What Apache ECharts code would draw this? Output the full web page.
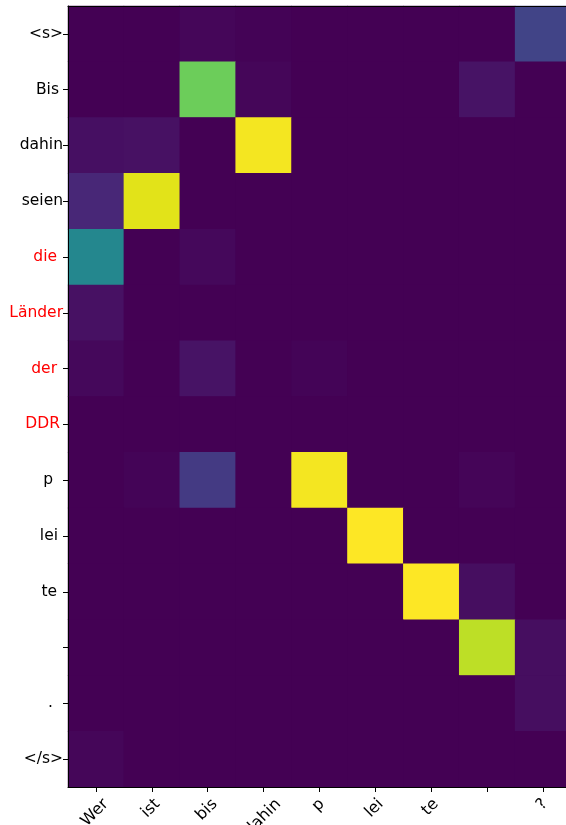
<!DOCTYPE html>
<html>
<head>
<meta charset="utf-8">
<script src="https://cdn.jsdelivr.net/npm/echarts@6/dist/echarts.min.js"></script>
<style>
html,body{margin:0;padding:0;background:#fff;}
#c{width:566px;height:825px;}
</style>
</head>
<body>
<div id="c"></div>
<script>
// Source tokens (x axis) and target tokens (y axis, top to bottom)
const sourceTokens = ['Wer', 'ist', 'bis', 'dahin', 'p', 'lei', 'te', '', '?'];
const targetTokens = ['<s>', 'Bis', 'dahin', 'seien', 'die', 'Länder', 'der', 'DDR', 'p', 'lei', 'te', '', '.', '</s>'];
const highlightedTargets = ['die', 'Länder', 'der', 'DDR'];

// Attention weights, one row per target token (columns follow sourceTokens)
const rowS      = [0,     0,     0.015, 0.005, 0,     0,    0,    0,     0.2];
const rowBis    = [0,     0,     0.775, 0.015, 0,     0,    0,    0.05,  0];
const rowDahin  = [0.04,  0.045, 0,     0.985, 0,     0,    0,    0,     0];
const rowSeien  = [0.11,  0.955, 0,     0,     0,     0,    0,    0,     0];
const rowDie    = [0.46,  0,     0.02,  0,     0,     0,    0,    0,     0];
const rowLaender= [0.045, 0,     0,     0,     0,     0,    0,    0,     0];
const rowDer    = [0.02,  0,     0.05,  0,     0.008, 0,    0,    0,     0];
const rowDDR    = [0,     0,     0,     0,     0,     0,    0,    0,     0];
const rowP      = [0,     0.008, 0.17,  0,     0.985, 0,    0,    0.012, 0];
const rowLei    = [0,     0,     0,     0,     0,     1.0,  0,    0,     0];
const rowTe     = [0,     0,     0,     0,     0,     0,    1.0,  0.035, 0];
const rowBlank  = [0,     0,     0,     0,     0,     0,    0,    0.9,   0.035];
const rowDot    = [0,     0,     0,     0,     0,     0,    0,    0,     0.035];
const rowEnd    = [0.015, 0,     0,     0,     0,     0,    0,    0,     0];

const weightRows = [rowS, rowBis, rowDahin, rowSeien, rowDie, rowLaender, rowDer,
                    rowDDR, rowP, rowLei, rowTe, rowBlank, rowDot, rowEnd];

// ---- styles ----
const FONT = 'DejaVu Sans';
const FS_Y = 15.5;
const FS_X = 16;
const viridis = ['#440154','#471365','#482475','#463480','#414487','#3b528b','#355f8d',
  '#2f6c8e','#2a788e','#25848e','#21918c','#1e9c89','#22a884','#2fb47c','#44bf70',
  '#5ec962','#7ad151','#9bd93c','#bddf26','#dfe318','#fde725'];
// extra right gap of each y label (px), as seen in the reference
const yLabelGap = [0, 4, 0, 0, 6, 0, 6, 3, 10, 5, 6, 0, 10, 0];
const xLabelShift = -2; // horizontal nudge of rotated x labels (px)

const data = [];
weightRows.forEach((row, yi) => row.forEach((v, xi) => data.push([xi, yi, v])));

const yRich = {};
targetTokens.forEach((t, i) => {
  yRich['y' + i] = {
    fontFamily: FONT, fontSize: FS_Y,
    color: highlightedTargets.includes(t) ? '#ff0000' : '#000000',
    padding: [0, yLabelGap[i], 0, 0]
  };
});

// rotated x labels: top of each rotated label box sits just under the tick (matplotlib va=top, ha=center)
const measureCtx = document.createElement('canvas').getContext('2d');
measureCtx.font = FS_X + 'px "' + FONT + '"';
const xRich = {};
const k = xLabelShift / Math.SQRT1_2;
sourceTokens.forEach((t, i) => {
  const w = measureCtx.measureText(t).width;
  const P = (w + FS_X) / 2;
  xRich['x' + i] = {
    fontFamily: FONT, fontSize: FS_X, color: '#000000',
    padding: [Math.max(0, P + k / 2), Math.max(0, P - k / 2), 0, 0]
  };
});

const chart = echarts.init(document.getElementById('c'), null, { renderer: 'canvas' });
chart.setOption({
  animation: false,
  backgroundColor: '#ffffff',
  grid: {
    left: 68, top: 6, width: 503, height: 781, containLabel: false, outerBoundsMode: 'none',
    show: true, backgroundColor: viridis[0], borderWidth: 0
  },
  xAxis: [{
    type: 'category',
    data: sourceTokens,
    position: 'bottom',
    splitArea: { show: false },
    splitLine: { show: false },
    axisLine: { show: true, onZero: false, lineStyle: { color: '#000', width: 1 } },
    axisTick: { show: true, alignWithLabel: true, length: 5, interval: 0, lineStyle: { color: '#000', width: 1 } },
    axisLabel: {
      show: true, interval: 0, rotate: 45, margin: 9,
      align: 'center', verticalAlign: 'middle',
      formatter: (v, i) => '{x' + i + '|' + v + '}',
      rich: xRich
    },
    z: 10
  }, {
    type: 'category',
    data: sourceTokens,
    position: 'top',
    axisLine: { show: true, onZero: false, lineStyle: { color: '#000', width: 1 } },
    axisTick: { show: false },
    axisLabel: { show: false },
    splitLine: { show: false },
    z: 10
  }],
  yAxis: {
    type: 'category',
    data: targetTokens,
    inverse: true,
    splitArea: { show: false },
    splitLine: { show: false },
    axisLine: { show: true, onZero: false, lineStyle: { color: '#000', width: 1 } },
    axisTick: { show: true, alignWithLabel: true, length: 5, interval: 0, lineStyle: { color: '#000', width: 1 } },
    axisLabel: {
      show: true, interval: 0, margin: 5,
      formatter: (v, i) => '{y' + i + '|' + v + '}',
      rich: yRich
    },
    z: 10
  },
  visualMap: {
    type: 'continuous', show: false, min: 0, max: 1, dimension: 2,
    inRange: { color: viridis }
  },
  series: [{
    type: 'heatmap',
    xAxisIndex: 0,
    yAxisIndex: 0,
    data: data,
    itemStyle: { borderWidth: 0 },
    emphasis: { disabled: true },
    progressive: 0
  }]
});
</script>
</body>
</html>
